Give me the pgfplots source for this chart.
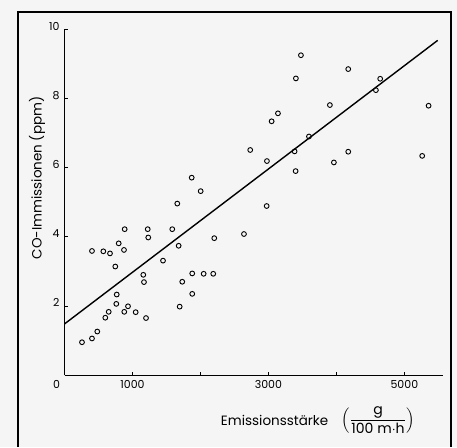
\documentclass[border=0pt]{standalone}
\usepackage{pgfplots}
\pgfplotsset{compat=1.18}
\usepackage{amsmath}
\usepackage{fontspec}
\setmainfont{Poppins}

\begin{document}
\begin{tikzpicture}
% page frame, in pixel units of the reference
\begin{scope}[x=0.025cm,y=-0.025cm]
  \fill[black!4] (0,0) rectangle (457,447);
  \useasboundingbox (0,0) rectangle (457,447);
  \draw[line width=1pt] (18,447) -- (18,12) -- (451,12) -- (451,447);
\end{scope}

\begin{axis}[
    at={(1.6125cm,-9.375cm)}, anchor=south west,
    scale only axis,
    width=9.4625cm, height=8.6425cm,
    xmin=0, xmax=5570, ymin=0, ymax=10,
    axis lines=left,
    axis line style={-, line width=0.75pt},
    tick align=inside,
    major tick length=0.09cm,
    tick style={line width=0.6pt, black},
    xtick={0,1000,2000,3000,4000,5000},
    xticklabels={\makebox[0pt][r]{0\hspace{0.11cm}},1000,,3000,,5000},
    ytick={2,4,6,8,10},
    yticklabel style={yshift=0.08cm},
    tick label style={font=\fontsize{7.8}{9}\selectfont},
    /pgf/number format/assume math mode=true,
    scaled x ticks=false,
    clip=false,
]
% Messwerte
\addplot[only marks, mark=o, mark size=1.7pt, mark options={line width=0.65pt}] coordinates {
  (257,0.95) (404,1.06) (482,1.26) (600,1.66) (650,1.83) (762,2.06)
  (768,2.33) (879,1.83) (934,1.99) (1047,1.82) (1199,1.65)
  (404,3.59) (571,3.58) (669,3.52) (797,3.81) (875,3.62) (747,3.14)
  (885,4.22) (1224,4.22) (1232,3.98) (1159,2.90) (1169,2.69)
  (1449,3.31) (1585,4.22) (1679,3.74) (1732,2.70) (1694,1.98)
  (1879,2.94) (1879,2.35) (2047,2.93) (2188,2.93) (2203,3.96)
  (2640,4.08) (1659,4.96) (1871,5.71) (2003,5.32)
  (2732,6.51) (2974,4.89) (2978,6.19) (3047,7.34) (3140,7.57)
  (3385,6.47) (3400,5.90) (3404,8.58) (3478,9.25) (3596,6.90)
  (3904,7.81) (3963,6.15) (4174,8.85) (4174,6.46) (4581,8.24)
  (4644,8.57) (5262,6.34) (5356,7.79)
};
% Regressionsgerade
\addplot[line width=1pt, no marks] coordinates {(0,1.48) (5490,9.68)};
\end{axis}

\begin{scope}[x=0.025cm,y=-0.025cm]
  \node[rotate=90, font=\fontsize{9.6}{11}\selectfont] at (37,178) {CO-Immissionen (ppm)};
  \node[anchor=base west, font=\fontsize{9.6}{11}\selectfont] at (216,425) {Emissionsstärke};
  \node[font=\fontsize{10}{12}\selectfont, inner sep=0pt] at (378,420)
    {$\left(\dfrac{\text{g}}{\text{100 m$\cdot$h}}\right)$};
\end{scope}
\end{tikzpicture}
\end{document}
